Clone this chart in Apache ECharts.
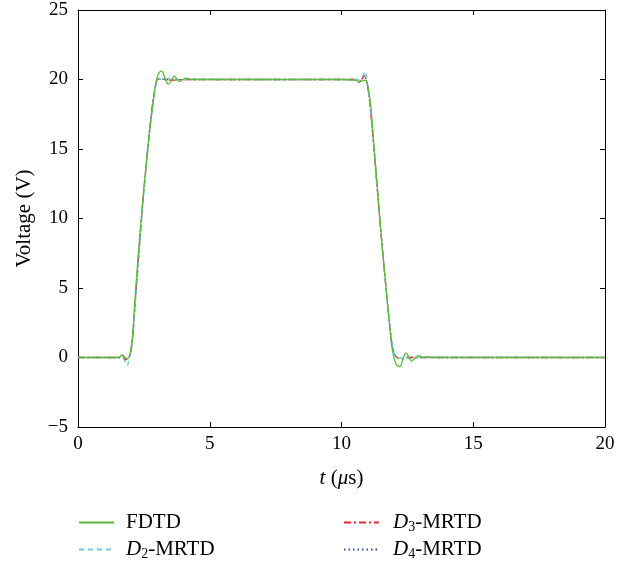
<!DOCTYPE html>
<html><head><meta charset="utf-8">
<script src="https://cdn.jsdelivr.net/npm/echarts@6/dist/echarts.min.js"></script>
<style>html,body{margin:0;padding:0;background:#fff}#c{width:637px;height:565px}</style>
</head><body><div id="c"></div>
<script>
var xTicks = [0, 5, 10, 15, 20];
var yTicks = [-5, 0, 5, 10, 15, 20, 25];
var seriesNames = ['FDTD', 'D2-MRTD', 'D3-MRTD', 'D4-MRTD'];

var fdtd = [[0,0],[1.5,0],[1.6,0.05],[1.68,0.2],[1.75,0.05],[1.85,-0.1],[1.95,0.1],[2.05,1.2],[2.15,3.8],[2.25,6.5],[2.4,10],[2.55,13.2],[2.7,16],[2.85,18.3],[2.95,19.7],[3.05,20.4],[3.18,20.6],[3.3,20.1],[3.43,19.65],[3.55,19.95],[3.65,20.25],[3.75,20.05],[3.85,19.85],[3.95,19.95],[4.1,20.1],[4.3,20.0],[6,20.0],[8,20],[10,20],[10.5,19.95],[10.7,19.85],[10.8,19.9],[10.9,19.95],[11.0,19.5],[11.1,18.3],[11.2,16],[11.35,12.5],[11.5,9],[11.65,5.8],[11.8,2.8],[11.9,0.9],[12.0,-0.1],[12.1,-0.55],[12.22,-0.65],[12.33,-0.1],[12.45,0.33],[12.55,0.05],[12.66,-0.26],[12.78,-0.05],[12.92,0.13],[13.1,0.0],[13.26,0.07],[13.5,0],[20,0]];
var d2 = [[0,0],[1.6,0],[1.7,-0.05],[1.8,-0.3],[1.87,-0.6],[1.93,-0.2],[2.0,0.4],[2.1,1.8],[2.2,4.5],[2.4,9.5],[2.6,14],[2.8,17.6],[2.95,19.5],[3.05,20.1],[3.2,20.0],[3.5,20.1],[3.8,20.0],[4.5,20.05],[6,20],[10,20],[10.6,20.0],[10.8,20.2],[10.89,20.6],[10.95,20.2],[11.05,18.8],[11.15,17],[11.25,14.8],[11.45,10],[11.7,4.8],[11.9,1.3],[12.0,0.3],[12.1,-0.1],[12.3,0],[12.6,-0.05],[13,0.03],[20,0]];
var d3 = [[0,0],[1.6,0],[1.7,0.1],[1.78,-0.15],[1.88,-0.05],[1.95,0.1],[2.05,1.0],[2.15,3.5],[2.3,7.3],[2.45,11],[2.6,14],[2.8,17.8],[2.95,19.6],[3.05,20.05],[3.3,20.0],[3.6,19.95],[4,20],[10,20],[10.5,20],[10.65,19.8],[10.8,20.1],[10.85,20.3],[10.95,19.9],[11.05,18.7],[11.2,15.7],[11.45,10],[11.7,4.8],[11.9,1.2],[12.0,0.3],[12.1,0.0],[12.3,-0.1],[12.5,0],[20,0]];
var d4 = [[0,0],[1.6,0],[1.7,0.08],[1.78,-0.12],[1.88,-0.05],[1.95,0.1],[2.05,1.0],[2.15,3.4],[2.3,7.2],[2.45,11],[2.6,14],[2.8,17.8],[2.95,19.6],[3.05,20.05],[3.3,20.0],[3.6,19.97],[4,20],[10,20],[10.5,20],[10.65,19.85],[10.8,20.1],[10.85,20.25],[10.95,19.9],[11.05,18.7],[11.2,15.7],[11.45,10],[11.7,4.8],[11.9,1.2],[12.0,0.3],[12.1,0.0],[12.3,-0.08],[12.5,0],[20,0]];

var FONT = '"Liberation Serif", "DejaVu Serif", serif';
var chart = echarts.init(document.getElementById('c'), null, {renderer: 'canvas'});
function makeRich() {
  return {
    i: {fontStyle: 'italic', fontFamily: FONT, fontSize: 21, color: '#000'},
    s: {fontFamily: FONT, fontSize: 14, color: '#000', verticalAlign: 'bottom', padding: [10, 0, 0, 0]},
    n: {fontFamily: FONT, fontSize: 21, color: '#000'}
  };
}
function legendFmt(name) {
  if (name === 'FDTD') return '{n|FDTD}';
  var m = name.match(/^D(\d)-(.*)$/);
  return '{i|D}{s|' + m[1] + '}{n|-' + m[2] + '}';
}
function minusFmt(v) { return String(v).replace('-', '\u2212'); }
function axisBase() {
  return {
    type: 'value', splitLine: {show: false},
    axisLine: {show: true, onZero: false, lineStyle: {color: '#000', width: 1}},
    axisTick: {show: true, inside: true, length: 5, lineStyle: {color: '#000'}}
  };
}
function makeLegend(name, left, top, gap) {
  return {
    data: [name], left: left, top: top, orient: 'horizontal', padding: 0,
    itemWidth: 35, itemHeight: 14,
    formatter: legendFmt,
    textStyle: {rich: makeRich(), fontSize: 21, padding: [0, 0, 0, gap]},
    itemStyle: {opacity: 0}
  };
}
var colors = ['#5cbb3a', '#6ccbdc', '#e8262a', '#34449c'];
var lineTypes = ['solid', [5, 4], [7, 3, 2, 3], [1.5, 3]];
var datas = [fdtd, d2, d3, d4];

var xMain = axisBase();
xMain.min = xTicks[0]; xMain.max = xTicks[xTicks.length - 1]; xMain.interval = 5;
xMain.axisLabel = {color: '#000', fontSize: 19, fontFamily: FONT, margin: 8};
xMain.name = '{i|t} {n|(}{i|\u03bc}{n|s)}';
xMain.nameLocation = 'middle'; xMain.nameGap = 41;
xMain.nameTextStyle = {rich: makeRich(), fontSize: 21};
var xTop = axisBase();
xTop.position = 'top'; xTop.min = 0; xTop.max = 20; xTop.interval = 5; xTop.axisLabel = {show: false};

var yMain = axisBase();
yMain.min = yTicks[0]; yMain.max = yTicks[yTicks.length - 1]; yMain.interval = 5;
yMain.axisLabel = {color: '#000', fontSize: 19, fontFamily: FONT, margin: 10, formatter: minusFmt};
yMain.name = 'Voltage (V)'; yMain.nameLocation = 'middle'; yMain.nameGap = 43;
yMain.nameTextStyle = {color: '#000', fontSize: 21, fontFamily: FONT};
var yRight = axisBase();
yRight.position = 'right'; yRight.min = -5; yRight.max = 25; yRight.interval = 5; yRight.axisLabel = {show: false};

chart.setOption({
  animation: false,
  textStyle: {fontFamily: FONT},
  grid: {left: 78, right: 32, top: 10, bottom: 138},
  xAxis: [xMain, xTop],
  yAxis: [yMain, yRight],
  legend: [
    makeLegend(seriesNames[0], 78, 512, 7),
    makeLegend(seriesNames[1], 78, 539, 7),
    makeLegend(seriesNames[2], 343, 512, 9),
    makeLegend(seriesNames[3], 343, 539, 9)
  ],
  series: datas.map(function (d, k) {
    return {
      name: seriesNames[k], type: 'line', data: d, showSymbol: false, symbol: 'none',
      smooth: 0.35, z: 10 - k,
      lineStyle: {color: colors[k], width: 1.3, type: lineTypes[k]},
      itemStyle: {color: colors[k]}
    };
  })
});
</script></body></html>
